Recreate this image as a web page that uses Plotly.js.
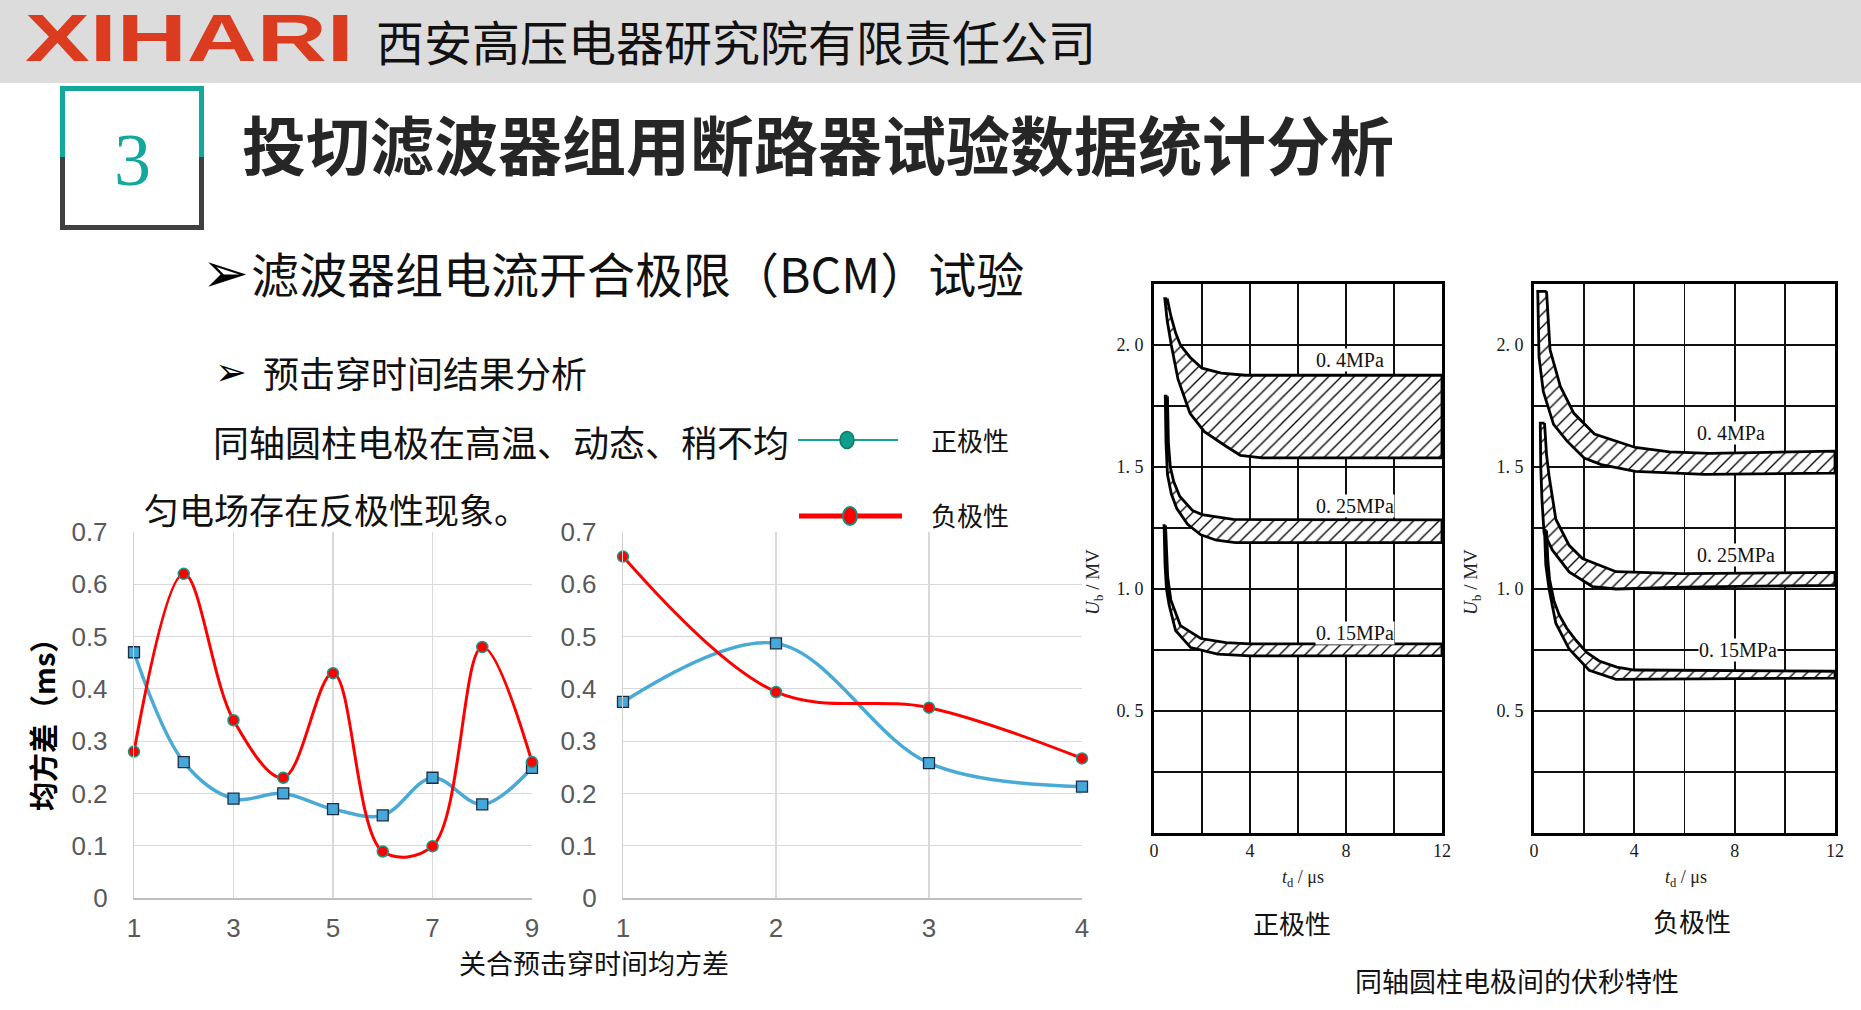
<!DOCTYPE html>
<html>
<head>
<meta charset="utf-8">
<script src="https://cdn.plot.ly/plotly-3.0.1.min.js"></script>
<style>
  html, body { margin: 0; padding: 0; background: #fff; overflow: hidden; }
  #wrap { position: relative; width: 1861px; height: 1010px; }
  #chart { position: absolute; left: 0; top: 0; width: 1861px; height: 1010px; }
  #logo { position: absolute; left: 25px; top: 5px; z-index: 10;
          font-family: "Liberation Sans", Arial, sans-serif; font-weight: 700;
          font-size: 66px; line-height: 66px; color: #db3b1e;
          transform: scaleX(1.47); transform-origin: 0 0; white-space: nowrap; }
</style>
</head>
<body>
<div id="wrap">
  <div id="chart"></div>
  <div id="logo">XIHARI</div>
</div>
<script>
// ---------- data ----------
const leftX = [1, 2, 3, 4, 5, 6, 7, 8, 9];
const leftPositive = [0.47, 0.26, 0.19, 0.20, 0.17, 0.158, 0.23, 0.179, 0.249];
const leftNegative = [0.28, 0.62, 0.34, 0.23, 0.43, 0.089, 0.099, 0.48, 0.26];
const leftTicks = [1, 3, 5, 7, 9];

const rightX = [1, 2, 3, 4];
const rightPositive = [0.375, 0.487, 0.258, 0.213];
const rightNegative = [0.653, 0.394, 0.364, 0.267];

const yTicks = [0, 0.1, 0.2, 0.3, 0.4, 0.5, 0.6, 0.7];
const yTickText = ['0', '0.1', '0.2', '0.3', '0.4', '0.5', '0.6', '0.7'];

// volt-second characteristic bands: [td (us), Ub (MV)]
const pos04Upper = [[0.55,2.19],[0.7,2.12],[0.9,2.05],[1.1,2.0],[1.5,1.95],[2.0,1.905],[2.8,1.885],[3.8,1.876],[12,1.876]];
const pos04Lower = [[0.45,2.19],[0.55,2.10],[0.72,2.0],[1.0,1.86],[1.5,1.72],[2.1,1.645],[3.0,1.585],[3.6,1.548],[4.5,1.537],[12,1.537]];
const pos025Upper = [[0.56,1.79],[0.6,1.6],[0.68,1.5],[0.82,1.44],[1.07,1.38],[1.6,1.322],[2.0,1.305],[3.3,1.285],[12,1.283]];
const pos025Lower = [[0.47,1.79],[0.5,1.6],[0.56,1.47],[0.72,1.39],[0.95,1.33],[1.4,1.265],[1.95,1.222],[2.6,1.20],[3.4,1.19],[12,1.19]];
const pos015Upper = [[0.48,1.26],[0.52,1.12],[0.57,1.05],[0.7,0.955],[1.1,0.85],[1.95,0.797],[3.0,0.78],[4.0,0.775],[12,0.775]];
const pos015Lower = [[0.42,1.26],[0.46,1.1],[0.52,1.0],[0.63,0.935],[0.9,0.83],[1.53,0.76],[2.65,0.733],[4.0,0.726],[12,0.727]];

const neg04Upper = [[0.5,2.22],[0.64,1.98],[1.05,1.83],[1.59,1.72],[2.41,1.635],[4.04,1.58],[5.4,1.562],[7.0,1.556],[12,1.565]];
const neg04Lower = [[0.15,2.22],[0.2,1.95],[0.37,1.81],[0.78,1.675],[1.32,1.606],[2.0,1.537],[2.68,1.51],[4.04,1.482],[6.8,1.47],[12,1.475]];
const neg025Upper = [[0.42,1.68],[0.5,1.55],[0.6,1.464],[0.87,1.286],[1.4,1.179],[1.93,1.125],[3.27,1.071],[5.9,1.063],[12,1.068]];
const neg025Lower = [[0.25,1.68],[0.27,1.5],[0.32,1.36],[0.4,1.23],[0.73,1.16],[1.4,1.07],[2.33,1.01],[3.27,1.0],[6,1.008],[12,1.015]];
const neg015Upper = [[0.5,1.24],[0.55,1.12],[0.62,1.04],[0.8,0.95],[1.0,0.895],[1.3,0.84],[1.67,0.79],[2.1,0.74],[2.6,0.705],[3.3,0.68],[4.0,0.668],[12,0.663]];
const neg015Lower = [[0.42,1.24],[0.47,1.1],[0.6,1.0],[0.87,0.86],[1.4,0.754],[2.2,0.667],[3.27,0.63],[5,0.633],[12,0.635]];

const bandLabels = ['0. 4MPa', '0. 25MPa', '0. 15MPa'];
const posLabelPos = [[8.15,1.94],[8.36,1.34],[8.36,0.82]];
const negLabelPos = [[7.87,1.64],[8.07,1.14],[8.13,0.75]];

const vsXTicks = [0, 4, 8, 12];
const vsXText = ['0', '4', '8', '12'];
const vsYTicks = [0.5, 1.0, 1.5, 2.0];
const vsYText = ['0. 5', '1. 0', '1. 5', '2. 0'];

// ---------- helpers ----------
const W = 1861, H = 1010;
const px = v => v / W;
const py = v => 1 - v / H;
const CJK = 'Noto Sans CJK SC';

function band(upper, lower, xa, ya) {
  const pts = upper.concat(lower.slice().reverse());
  pts.push(upper[0]);
  return {
    x: pts.map(p => p[0]), y: pts.map(p => p[1]),
    xaxis: xa, yaxis: ya, type: 'scatter', mode: 'lines',
    fill: 'toself', fillcolor: 'white',
    fillpattern: { shape: '/', fgcolor: '#000', bgcolor: '#fff', size: 9, solidity: 0.15 },
    line: { color: '#000', width: 2.8 }, hoverinfo: 'skip'
  };
}

const blueLine = '#4aaad6', blueFill = '#46a8d8', blueEdge = '#1d2d48';
const redLine = '#ff0000', redEdge = '#169a88';

function chartTraces(xs, pos, neg, xa, ya) {
  return [
    { x: xs, y: pos, xaxis: xa, yaxis: ya, type: 'scatter', mode: 'lines+markers', cliponaxis: false,
      line: { color: blueLine, width: 3.5, shape: 'spline', smoothing: 1 },
      marker: { symbol: 'square', size: 11, color: blueFill, line: { color: blueEdge, width: 1.3 } } },
    { x: xs, y: neg, xaxis: xa, yaxis: ya, type: 'scatter', mode: 'lines+markers', cliponaxis: false,
      line: { color: redLine, width: 3, shape: 'spline', smoothing: 1 },
      marker: { symbol: 'circle', size: 11, color: '#ff0000', line: { color: redEdge, width: 1.5 } } }
  ];
}

const data = []
  .concat(chartTraces(leftX, leftPositive, leftNegative, 'x', 'y'))
  .concat(chartTraces(rightX, rightPositive, rightNegative, 'x2', 'y2'))
  .concat([
    band(pos04Upper, pos04Lower, 'x3', 'y3'),
    band(pos025Upper, pos025Lower, 'x3', 'y3'),
    band(pos015Upper, pos015Lower, 'x3', 'y3'),
    band(neg04Upper, neg04Lower, 'x4', 'y4'),
    band(neg025Upper, neg025Lower, 'x4', 'y4'),
    band(neg015Upper, neg015Lower, 'x4', 'y4')
  ]);

const tickFont = { family: 'Liberation Sans, Arial, sans-serif', size: 26, color: '#595959' };
const chartY = [py(898), py(532)];
function chartX(domain, range, tickvals, anchor) {
  return { domain, range, anchor, tickvals, ticktext: tickvals.map(String), showgrid: true,
    gridcolor: '#d9d9d9', gridwidth: 1.2, zeroline: false, showline: true, linecolor: '#bfbfbf',
    linewidth: 1.5, ticks: '', tickfont: tickFont, ticklabelstandoff: 6, fixedrange: true };
}
function chartYAxis(anchor) {
  return { domain: chartY, range: [0, 0.7], anchor, tickvals: yTicks, ticktext: yTickText,
    showgrid: true, gridcolor: '#d9d9d9', gridwidth: 1.2, zeroline: false, showline: true,
    linecolor: '#d0d0d0', linewidth: 1.2, ticks: '', tickfont: tickFont, ticklabelstandoff: 20, fixedrange: true };
}
const vsFont = { family: 'Liberation Serif, serif', size: 18, color: '#1a1a1a' };
const vsY = [py(833), py(284)];
function vsXAxis(domain, anchor) {
  return { domain, range: [0, 12], anchor, tickvals: vsXTicks, ticktext: vsXText, showgrid: true,
    gridcolor: '#111', gridwidth: 1.8, zeroline: false, showline: true, mirror: true, linecolor: '#000',
    linewidth: 2.8, ticks: '', tickfont: vsFont, ticklabelstandoff: 0, fixedrange: true,
    minor: { dtick: 2, tick0: 0, showgrid: true, gridcolor: '#111', gridwidth: 1.8, ticks: '' } };
}
function vsYAxis(anchor) {
  return { domain: vsY, range: [0, 2.25], anchor, tickvals: vsYTicks, ticktext: vsYText, showgrid: true,
    gridcolor: '#111', gridwidth: 1.8, zeroline: false, showline: true, mirror: true, linecolor: '#000',
    linewidth: 2.8, ticks: '', tickfont: vsFont, ticklabelstandoff: 4, fixedrange: true,
    minor: { dtick: 0.25, tick0: 0, showgrid: true, gridcolor: '#111', gridwidth: 1.8, ticks: '' } };
}

function txt(text, x, y, size, opts) {
  return Object.assign({ text, x: px(x), y: py(y), xref: 'paper', yref: 'paper', showarrow: false,
    xanchor: 'left', yanchor: 'middle', font: { family: CJK, size, color: '#111' } }, opts || {});
}

const annotations = [
  txt('西安高压电器研究院有限责任公司', 374, 40, 48),
  txt('3', 132, 160, 74, { xanchor: 'center', font: { family: 'Liberation Serif, serif', size: 74, color: '#14a89c' } }),
  txt('投切滤波器组用断路器试验数据统计分析', 240, 142, 64, { font: { family: CJK, size: 64, color: '#262626', weight: 700 } }),
  txt('➢', 200, 272, 56, { font: { family: 'DejaVu Sans', size: 56, color: '#000' } }),
  txt('滤波器组电流开合极限（BCM）试验', 249, 272, 48),
  txt('➢', 213, 372, 38, { font: { family: 'DejaVu Sans', size: 38, color: '#000' } }),
  txt('预击穿时间结果分析', 261, 372, 36),
  txt('同轴圆柱电极在高温、动态、稍不均', 211, 441, 36),
  txt('匀电场存在反极性现象。', 142, 508, 35),
  txt('正极性', 929, 440, 26),
  txt('负极性', 929, 514, 26),
  txt('均方差（ms）', 42, 718, 29, { xanchor: 'center', textangle: -90, font: { family: CJK, size: 29, color: '#000', weight: 700 } }),
  txt('关合预击穿时间均方差', 594, 962, 27, { xanchor: 'center' }),
  txt('正极性', 1292, 922, 26, { xanchor: 'center' }),
  txt('负极性', 1692, 920, 26, { xanchor: 'center' }),
  txt('同轴圆柱电极间的伏秒特性', 1517, 980, 27, { xanchor: 'center' }),
  txt('<i>t</i><sub>d</sub> / μs', 1303, 878, 18, { xanchor: 'center', font: { family: 'Liberation Serif, serif', size: 18, color: '#222' } }),
  txt('<i>t</i><sub>d</sub> / μs', 1686, 878, 18, { xanchor: 'center', font: { family: 'Liberation Serif, serif', size: 18, color: '#222' } }),
  txt('<i>U</i><sub>b</sub> / MV', 1094, 582, 19, { xanchor: 'center', textangle: -90, font: { family: 'Liberation Serif, serif', size: 19, color: '#222' } }),
  txt('<i>U</i><sub>b</sub> / MV', 1472, 582, 19, { xanchor: 'center', textangle: -90, font: { family: 'Liberation Serif, serif', size: 19, color: '#222' } })
];
bandLabels.forEach((t, i) => {
  annotations.push({ text: t, x: posLabelPos[i][0], y: posLabelPos[i][1], xref: 'x3', yref: 'y3', showarrow: false,
    xanchor: 'center', yanchor: 'middle', bgcolor: '#fff', borderpad: 0,
    font: { family: 'Liberation Serif, serif', size: 20, color: '#111' } });
  annotations.push({ text: t, x: negLabelPos[i][0], y: negLabelPos[i][1], xref: 'x4', yref: 'y4', showarrow: false,
    xanchor: 'center', yanchor: 'middle', bgcolor: '#fff', borderpad: 0,
    font: { family: 'Liberation Serif, serif', size: 20, color: '#111' } });
});

function pline(x0, y0, x1, y1, color, width) {
  return { type: 'line', xref: 'paper', yref: 'paper', x0: px(x0), y0: py(y0), x1: px(x1), y1: py(y1),
    line: { color, width } };
}
function pellipse(cx, cy, rx, ry, fill, edge, w) {
  return { type: 'circle', xref: 'paper', yref: 'paper', x0: px(cx - rx), x1: px(cx + rx), y0: py(cy + ry), y1: py(cy - ry),
    fillcolor: fill, line: { color: edge, width: w } };
}
const teal = '#13a89c', dark = '#404040';
const shapes = [
  { type: 'rect', xref: 'paper', yref: 'paper', x0: 0, x1: 1, y0: py(83), y1: 1, fillcolor: '#dcdcdc', line: { width: 0 }, layer: 'below' },
  pline(60, 88.5, 204, 88.5, teal, 5),
  pline(62.5, 86, 62.5, 157, teal, 5),
  pline(201.5, 86, 201.5, 157, teal, 5),
  pline(62.5, 157, 62.5, 230, dark, 5),
  pline(201.5, 157, 201.5, 230, dark, 5),
  pline(60, 227.5, 204, 227.5, dark, 5),
  pline(798, 440, 898, 440, '#16a394', 2),
  pellipse(847, 440, 7, 8.5, '#0f9e8c', '#0b7a6c', 1.5),
  pline(799, 516, 902, 516, '#ff0000', 5),
  pellipse(850, 516, 7, 9, '#ff0000', '#1a8a7a', 2)
];

const layout = {
  width: W, height: H, margin: { l: 0, r: 0, t: 0, b: 0 },
  paper_bgcolor: '#fff', plot_bgcolor: 'rgba(0,0,0,0)', showlegend: false,
  xaxis: chartX([px(134), px(532)], [1, 9], leftTicks, 'y'),
  yaxis: chartYAxis('x'),
  xaxis2: chartX([px(623), px(1082)], [1, 4], rightX, 'y2'),
  yaxis2: chartYAxis('x2'),
  xaxis3: vsXAxis([px(1154), px(1442)], 'y3'),
  yaxis3: vsYAxis('x3'),
  xaxis4: vsXAxis([px(1534), px(1835)], 'y4'),
  yaxis4: vsYAxis('x4'),
  annotations, shapes
};

Plotly.newPlot('chart', data, layout, { displayModeBar: false, staticPlot: true });
</script>
</body>
</html>
